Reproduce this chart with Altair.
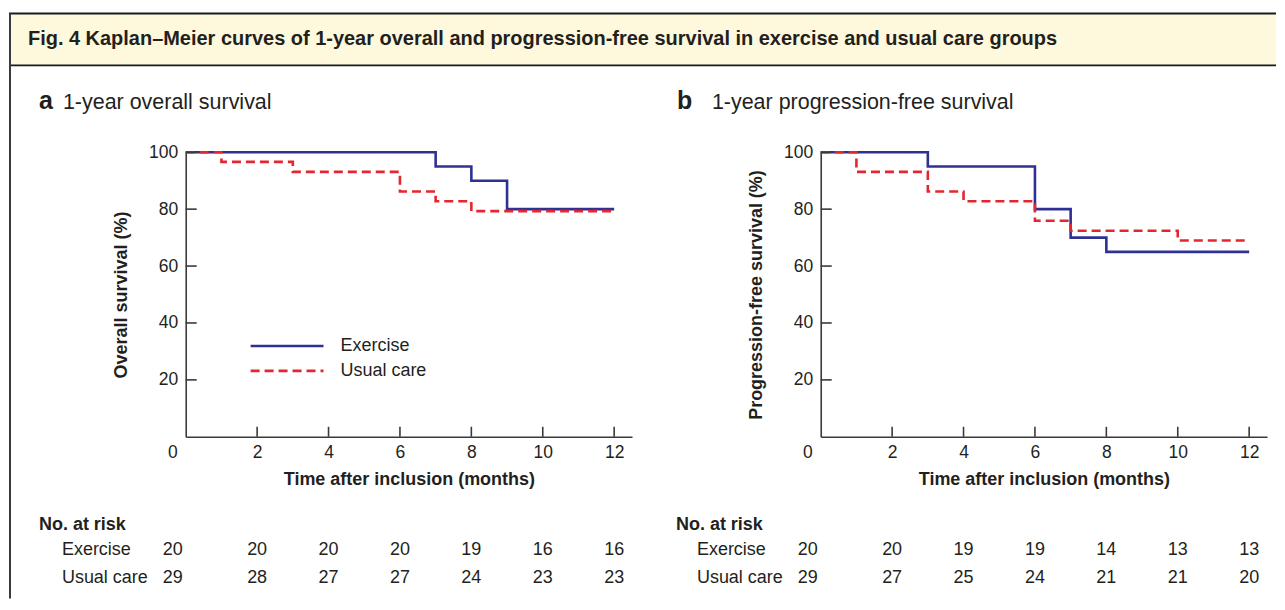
import altair as alt
import pandas as pd

FONT = "Liberation Sans"
INK = "#231f20"

# ---------------- data ----------------
groups = ["Exercise", "Usual care"]
colors = ["#2e3192", "#e3262f"]

# Panel a: 1-year overall survival (step curves)
os_ex_t = [0, 7, 8, 9, 12]
os_ex_s = [100, 95, 90, 80, 80]
os_uc_t = [0, 1, 3, 6, 7, 8, 12]
os_uc_s = [100, 96.6, 93.1, 86.2, 82.8, 79.3, 79.3]

# Panel b: 1-year progression-free survival
pfs_ex_t = [0, 3, 6, 7, 8, 12]
pfs_ex_s = [100, 95, 80, 70, 65, 65]
pfs_uc_t = [0, 1, 3, 4, 6, 7, 10, 12]
pfs_uc_s = [100, 93.1, 86.2, 82.8, 75.9, 72.4, 69.0, 69.0]

# Numbers at risk
risk_months = [0, 2, 4, 6, 8, 10, 12]
os_risk_ex = [20, 20, 20, 20, 19, 16, 16]
os_risk_uc = [29, 28, 27, 27, 24, 23, 23]
pfs_risk_ex = [20, 20, 19, 19, 14, 13, 13]
pfs_risk_uc = [29, 27, 25, 24, 21, 21, 20]

x_ticks = [2, 4, 6, 8, 10, 12]
y_ticks = [20, 40, 60, 80, 100]

fig_title = "Fig. 4 Kaplan\u2013Meier curves of 1-year overall and progression-free survival in exercise and usual care groups"

# ---------------- layout ----------------
W, H = 447, 285          # plot area of each panel
PA_X, PA_Y = 185, 151    # page position of panel a plot origin
PB_X = 821               # page position of panel b plot origin
ROW_HEAD, ROW_EX, ROW_UC = 524, 549, 577

one = pd.DataFrame({"k": [0]})


def txt(text, x, y, size, weight="normal", align="left", baseline="middle"):
    return alt.Chart(one).mark_text(
        text=text, font=FONT, fontSize=size, fontWeight=weight, color=INK,
        align=align, baseline=baseline
    ).encode(x=alt.value(x), y=alt.value(y))


def panel(ex_t, ex_s, uc_t, uc_s, risk_ex, risk_uc, ytitle, letter, heading,
          origin_x, first):
    xs = alt.Scale(domain=[0, 12.5], nice=False, zero=False)
    ys = alt.Scale(domain=[0, 100], nice=False)

    curves = pd.DataFrame({
        "t": ex_t + uc_t,
        "s": ex_s + uc_s,
        "g": [groups[0]] * len(ex_t) + [groups[1]] * len(uc_t),
        "o": [0] * len(ex_t) + [1] * len(uc_t),
    })

    line = alt.Chart(curves).mark_line(interpolate="step-after", strokeWidth=2.6).encode(
        x=alt.X("t:Q", scale=xs, axis=alt.Axis(
            values=x_ticks, ticks=False, tickSize=0, grid=False,
            domainColor="#3a3a3a", domainWidth=1.6,
            labelFont=FONT, labelFontSize=17.5, labelColor=INK, labelPadding=7,
            title="Time after inclusion (months)", titleFont=FONT, titleFontSize=18,
            titleFontWeight="bold", titleColor=INK, titlePadding=9)),
        y=alt.Y("s:Q", scale=ys, axis=alt.Axis(
            values=y_ticks, ticks=False, tickSize=0, grid=False,
            domainColor="#3a3a3a", domainWidth=1.6,
            labelFont=FONT, labelFontSize=17.5, labelColor=INK, labelPadding=8,
            title=ytitle, titleFont=FONT, titleFontSize=18,
            titleFontWeight="bold", titleColor=INK, titlePadding=18)),
        color=alt.Color("g:N", scale=alt.Scale(domain=groups, range=colors), legend=None),
        strokeDash=alt.StrokeDash("g:N", scale=alt.Scale(domain=groups, range=[[1, 0], [9, 5]]), legend=None),
        detail="g:N",
        order="o:Q",
    )

    xt = alt.Chart(pd.DataFrame({"t": x_ticks})).mark_rule(color="#3a3a3a", strokeWidth=1.6).encode(
        x=alt.X("t:Q", scale=xs), y=alt.value(H), y2=alt.value(H - 10))
    yt = alt.Chart(pd.DataFrame({"s": y_ticks})).mark_rule(color="#3a3a3a", strokeWidth=1.6).encode(
        y=alt.Y("s:Q", scale=ys), x=alt.value(0), x2=alt.value(11))

    zero_lab = alt.Chart(pd.DataFrame({"t": [0]})).mark_text(
        text="0", font=FONT, fontSize=17.5, color=INK, dx=-13, baseline="middle").encode(
        x=alt.X("t:Q", scale=xs), y=alt.value(H + 16))

    def risk_row(vals, row_y):
        df = pd.DataFrame({"t": risk_months, "n": vals})
        base = alt.Chart(df)
        r0 = base.transform_filter("datum.t == 0").mark_text(
            font=FONT, fontSize=18, color=INK, dx=-13, baseline="middle").encode(
            x=alt.X("t:Q", scale=xs), y=alt.value(row_y - PA_Y), text="n:Q")
        r1 = base.transform_filter("datum.t > 0").mark_text(
            font=FONT, fontSize=18, color=INK, baseline="middle").encode(
            x=alt.X("t:Q", scale=xs), y=alt.value(row_y - PA_Y), text="n:Q")
        return [r0, r1]

    ox = origin_x
    layers = [line, xt, yt, zero_lab]
    deco = []
    if first:
        # figure frame and caption bar
        deco += [
            alt.Chart(one).mark_rect(color="#fef9dc").encode(
                x=alt.value(8 - ox), x2=alt.value(1277 - ox),
                y=alt.value(12 - PA_Y), y2=alt.value(64 - PA_Y)),
            alt.Chart(one).mark_rule(color="#1a1a1a", strokeWidth=2).encode(
                x=alt.value(8 - ox), x2=alt.value(1277 - ox), y=alt.value(12 - PA_Y)),
            alt.Chart(one).mark_rule(color="#1a1a1a", strokeWidth=2).encode(
                x=alt.value(8 - ox), x2=alt.value(1277 - ox), y=alt.value(64 - PA_Y)),
            alt.Chart(one).mark_rule(color="#3a3a3a", strokeWidth=2).encode(
                x=alt.value(9 - ox), y=alt.value(12 - PA_Y), y2=alt.value(598 - PA_Y)),
            txt(fig_title, 27 - ox, 44 - PA_Y, 20, "bold", baseline="alphabetic"),
        ]
        # legend
        leg_x0, leg_x1, leg_tx = 250 - ox, 323 - ox, 340 - ox
        deco += [
            alt.Chart(one).mark_rule(color=colors[0], strokeWidth=2.6).encode(
                x=alt.value(leg_x0), x2=alt.value(leg_x1), y=alt.value(345 - PA_Y)),
            alt.Chart(one).mark_rule(color=colors[1], strokeWidth=2.6, strokeDash=[9, 5]).encode(
                x=alt.value(leg_x0), x2=alt.value(leg_x1), y=alt.value(370 - PA_Y)),
            txt(groups[0], leg_tx, 345 - PA_Y, 18),
            txt(groups[1], leg_tx, 370 - PA_Y, 18),
        ]
        lx, hx, rx, nx = 38, 62, 38, 61
    else:
        lx, hx, rx, nx = 677, 712, 676, 697

    deco += [
        txt(letter, lx - ox, 108 - PA_Y, 25, "bold", baseline="alphabetic"),
        txt(heading, hx - ox, 108 - PA_Y, 21.5, baseline="alphabetic"),
        txt("No. at risk", rx - ox, ROW_HEAD - PA_Y, 18, "bold"),
        txt(groups[0], nx - ox, ROW_EX - PA_Y, 18),
        txt(groups[1], nx - ox, ROW_UC - PA_Y, 18),
    ]
    layers += risk_row(risk_ex, ROW_EX) + risk_row(risk_uc, ROW_UC)

    return alt.layer(*(deco[:5] if first else []), *layers,
                     *(deco[5:] if first else deco)).properties(width=W, height=H)


pa = panel(os_ex_t, os_ex_s, os_uc_t, os_uc_s, os_risk_ex, os_risk_uc,
           "Overall survival (%)", "a", "1-year overall survival", PA_X, True)
pb = panel(pfs_ex_t, pfs_ex_s, pfs_uc_t, pfs_uc_s, pfs_risk_ex, pfs_risk_uc,
           "Progression-free survival (%)", "b", "1-year progression-free survival", PB_X, False)

chart = alt.hconcat(pa, pb, spacing=PB_X - PA_X - W, bounds="flush").properties(
    padding={"left": 0, "top": 4, "right": 0, "bottom": 0},
    background="white",
).configure_view(stroke=None)

chart.save("out.html", embed_options={"renderer": "svg", "actions": False})
